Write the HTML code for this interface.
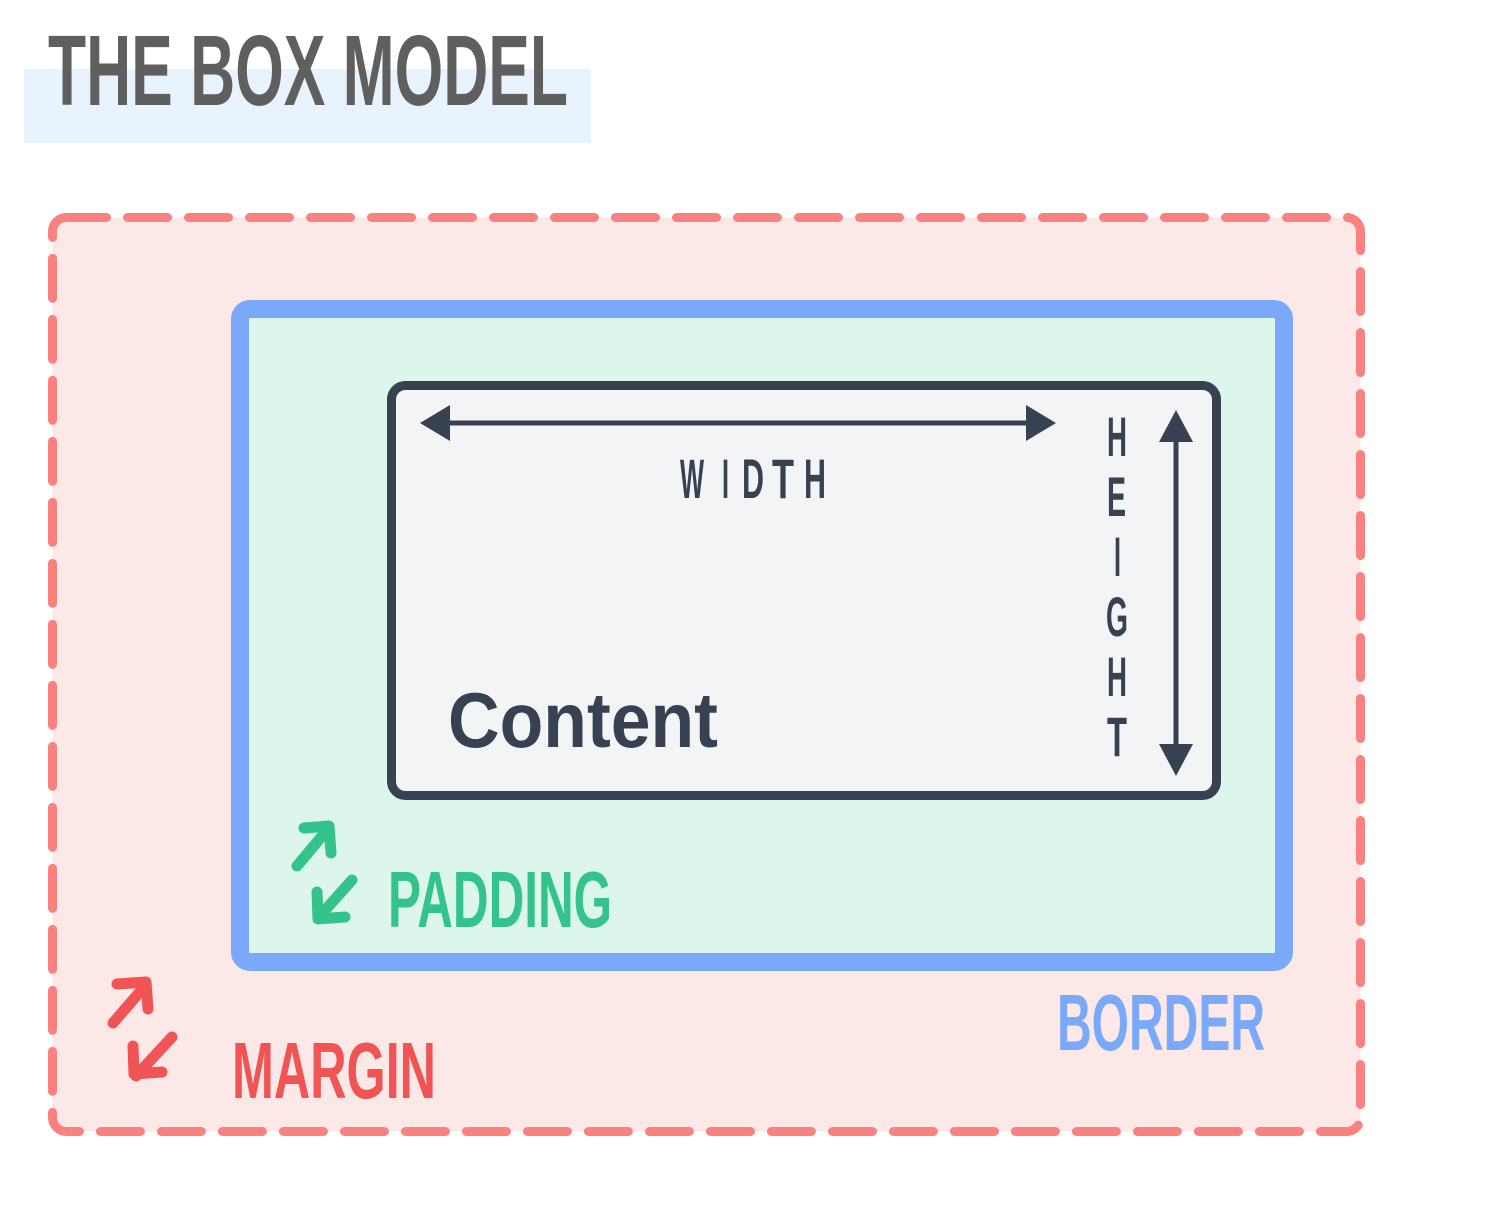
<!DOCTYPE html>
<html><head><meta charset="utf-8"><style>
html,body{margin:0;padding:0;background:#fff;}
svg{display:block;}
text{font-family:"Liberation Sans",sans-serif;font-weight:bold;}
</style></head><body>
<svg width="1491" height="1215" viewBox="0 0 1491 1215" xmlns="http://www.w3.org/2000/svg">
<rect x="24" y="69" width="567" height="74" fill="#e8f3fd"/>
<text x="48" y="105" font-size="100" fill="#5f5f5f" textLength="520" lengthAdjust="spacingAndGlyphs">THE BOX MODEL</text>

<rect x="52.5" y="217.5" width="1308" height="914" rx="14" fill="#fce8e6" stroke="#f98281" stroke-width="9" stroke-dasharray="40 21" stroke-linecap="round"/>

<rect x="240" y="309" width="1044" height="653" rx="10" fill="#dcf6ec" stroke="#79a9f8" stroke-width="18"/>

<rect x="391.5" y="385.5" width="825" height="410" rx="14" fill="#f3f4f6" stroke="#374151" stroke-width="9"/>

<g fill="#374151" stroke="#374151">
<line x1="445" y1="423" x2="1030" y2="423" stroke-width="5"/>
<polygon points="420,423 450,405 450,441" stroke="none"/>
<polygon points="1056,423 1026,405 1026,441" stroke="none"/>
<line x1="1176" y1="435" x2="1176" y2="752" stroke-width="5"/>
<polygon points="1176,410 1159,442 1193,442" stroke="none"/>
<polygon points="1176,776 1159,744 1193,744" stroke="none"/>
</g>

<g fill="#374151" font-size="56">
<text x="680" y="498" textLength="24" lengthAdjust="spacingAndGlyphs">W</text>
<text x="722" y="498" textLength="7" lengthAdjust="spacingAndGlyphs">I</text>
<text x="742" y="498" textLength="22" lengthAdjust="spacingAndGlyphs">D</text>
<text x="772" y="498" textLength="22" lengthAdjust="spacingAndGlyphs">T</text>
<text x="804" y="498" textLength="22" lengthAdjust="spacingAndGlyphs">H</text>
<text x="1107" y="456" textLength="20" lengthAdjust="spacingAndGlyphs">H</text>
<text x="1107" y="516" textLength="19" lengthAdjust="spacingAndGlyphs">E</text>
<text x="1114" y="576" textLength="7" lengthAdjust="spacingAndGlyphs">I</text>
<text x="1106" y="636" textLength="22" lengthAdjust="spacingAndGlyphs">G</text>
<text x="1107" y="696" textLength="20" lengthAdjust="spacingAndGlyphs">H</text>
<text x="1107" y="756" textLength="20" lengthAdjust="spacingAndGlyphs">T</text>
</g>

<text x="448" y="747" font-size="78" fill="#374151" textLength="270" lengthAdjust="spacingAndGlyphs">Content</text>

<g fill="none" stroke="#34c48b" stroke-width="11" stroke-linecap="round" stroke-linejoin="round">
<line x1="297" y1="866" x2="328" y2="829"/>
<polyline points="304,828 329,826 331,853"/>
<line x1="352" y1="880" x2="319" y2="917"/>
<polyline points="317,892 318,919 345,917"/>
</g>
<text x="388" y="927" font-size="80" fill="#34c48b" textLength="224" lengthAdjust="spacingAndGlyphs">PADDING</text>

<g fill="none" stroke="#f05454" stroke-width="11" stroke-linecap="round" stroke-linejoin="round">
<line x1="113" y1="1023" x2="145" y2="986"/>
<polyline points="117,984 146,982 148,1009"/>
<line x1="172" y1="1037" x2="136" y2="1076"/>
<polyline points="133,1046 134,1074 162,1072"/>
</g>
<text x="232" y="1098" font-size="80" fill="#f05454" textLength="204" lengthAdjust="spacingAndGlyphs">MARGIN</text>

<text x="1057" y="1050" font-size="80" fill="#79a9f8" textLength="208" lengthAdjust="spacingAndGlyphs">BORDER</text>
</svg>
</body></html>
